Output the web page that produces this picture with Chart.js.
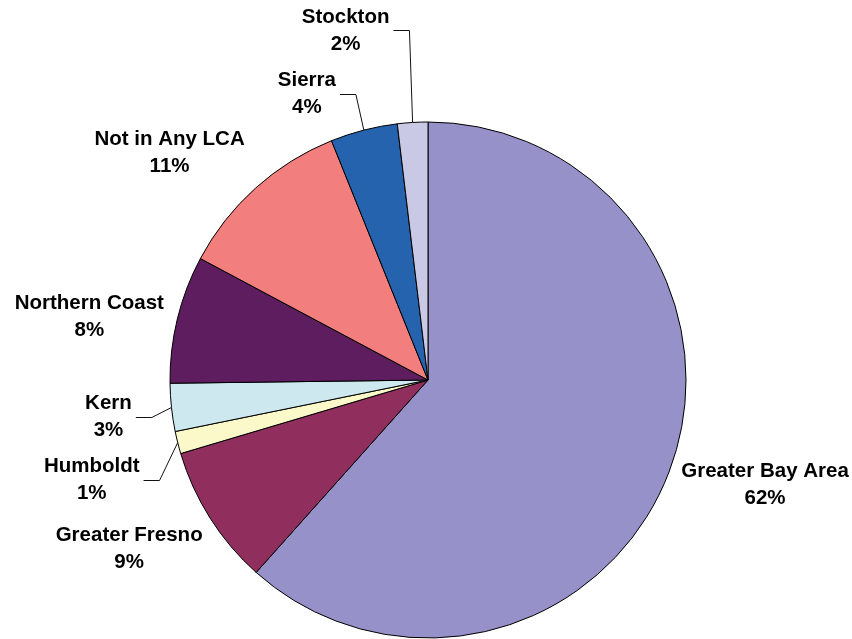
<!DOCTYPE html>
<html>
<head>
<meta charset="utf-8">
<script src="https://cdn.jsdelivr.net/npm/chart.js@4.4.1/dist/chart.umd.min.js"></script>
<style>
  html, body { margin: 0; padding: 0; background: #ffffff; }
  #wrap { width: 852px; height: 639px; position: relative; }
</style>
</head>
<body>
<div id="wrap"><canvas id="c" width="852" height="639"></canvas></div>
<script>
// ---- data ----
const categories = ["Greater Bay Area", "Greater Fresno", "Humboldt", "Kern", "Northern Coast", "Not in Any LCA", "Sierra", "Stockton"];
const shares = [61.6, 8.8, 1.4, 3.0, 8.0, 11.1, 4.2, 1.9];
const sliceColors = ["#9692C9", "#902F5E", "#FBF8C9", "#CDE9EF", "#5E1D5E", "#F27E7E", "#2663AF", "#CAC9E5"];

// ---- label layout (offset of label centre from the slice's outer mid-point) ----
const labelOffsets = [
  [96, 13], [-81, 31], [-86, 37], [-63, 9], [-88, -2], [-86, -35], [-57, -36], [-67, -92]
];
const hasLeader = [false, false, true, true, false, false, true, true];

const FONT = "bold 20.5px 'Liberation Sans', Arial, sans-serif";
const LINE_H = 27;

const labelPlugin = {
  id: 'pieLabels',
  afterDatasetsDraw(chart) {
    const ctx = chart.ctx;
    const meta = chart.getDatasetMeta(0);
    const total = shares.reduce((a, b) => a + b, 0);
    ctx.save();
    ctx.font = FONT;
    ctx.fillStyle = '#000';
    ctx.textAlign = 'center';
    ctx.textBaseline = 'middle';
    meta.data.forEach((arc, i) => {
      const p = arc.getProps(['x', 'y', 'startAngle', 'endAngle', 'outerRadius'], true);
      const mid = (p.startAngle + p.endAngle) / 2;
      const ax = p.x + Math.cos(mid) * p.outerRadius;
      const ay = p.y + Math.sin(mid) * p.outerRadius;
      const lx = ax + labelOffsets[i][0];
      const ly = ay + labelOffsets[i][1];
      const l1 = categories[i];
      const l2 = Math.round(shares[i] / total * 100 + 1e-9) + '%';
      ctx.fillText(l1, lx, ly - LINE_H / 2);
      ctx.fillText(l2, lx, ly + LINE_H / 2);
      if (hasLeader[i]) {
        const w = Math.max(ctx.measureText(l1).width, ctx.measureText(l2).width);
        const dir = ax > lx ? 1 : -1;
        const sx = lx + dir * (w / 2 + 4);
        const ex = sx + dir * 16;
        ctx.beginPath();
        ctx.strokeStyle = '#111';
        ctx.lineWidth = 1;
        ctx.moveTo(sx, Math.round(ly) + 0.5);
        ctx.lineTo(ex, Math.round(ly) + 0.5);
        ctx.lineTo(ax, ay);
        ctx.stroke();
      }
    });
    ctx.restore();
  }
};

new Chart(document.getElementById('c'), {
  type: 'pie',
  data: {
    labels: categories,
    datasets: [{
      data: shares,
      backgroundColor: sliceColors,
      borderColor: '#000000',
      borderWidth: 1,
      borderAlign: 'center'
    }]
  },
  options: {
    responsive: false,
    animation: false,
    radius: 258,
    layout: { padding: { top: 121, bottom: 0, left: 4, right: 0 } },
    plugins: {
      legend: { display: false },
      tooltip: { enabled: false }
    }
  },
  plugins: [labelPlugin]
});
</script>
</body>
</html>
